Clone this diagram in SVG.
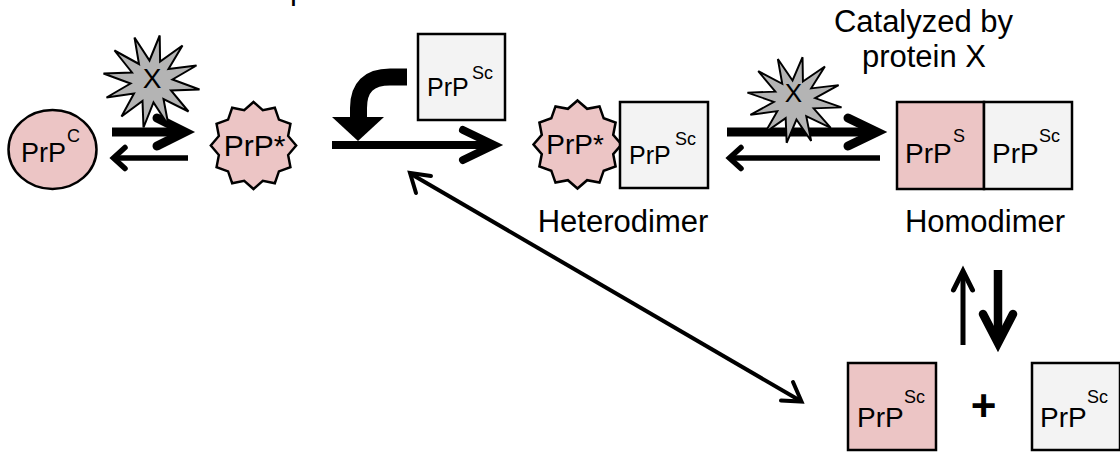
<svg xmlns="http://www.w3.org/2000/svg" width="1120" height="452" viewBox="0 0 1120 452">
<style>
text{font-family:"Liberation Sans",Arial,sans-serif;fill:#000}
.lbl{font-size:31px}
.pr{font-size:28px}
.prs{font-size:25px}
.sup{font-size:18px}
.pink{fill:#ecc5c5;stroke:#000;stroke-width:2.5}
.grey{fill:#f3f3f3;stroke:#000;stroke-width:2.5}
.star{fill:#b4b4b4;stroke:#000;stroke-width:2}
.ln{fill:none;stroke:#000;stroke-linecap:butt}
.hd{fill:none;stroke:#000;stroke-linecap:round;stroke-linejoin:miter}
</style>
<defs>
<path id="xstar" d="M8.2,-46 L8.6,-20 L31,-36 L17,-12.5 L45,-16 L21,-2 L48,8 L19.5,9 L37,30 L12,17.5 L17,44 L2,21 L-8,46 L-9,19.5 L-30,35 L-17.5,12 L-45,16 L-21,2 L-48,-8 L-19.5,-9 L-37,-31 L-12.5,-17.5 L-17,-44 L-2,-21 Z"/>
<path id="wstar" d="M0,-44 L9.6,-35.7 L22,-38.1 L26.2,-26.2 L38.1,-22 L35.7,-9.6 L44,0 L35.7,9.6 L38.1,22 L26.2,26.2 L22,38.1 L9.6,35.7 L0,44 L-9.6,35.7 L-22,38.1 L-26.2,26.2 L-38.1,22 L-35.7,9.6 L-44,0 L-35.7,-9.6 L-38.1,-22 L-26.2,-26.2 L-22,-38.1 L-9.6,-35.7 Z"/>
</defs>

<text class="lbl" x="290" y="-1.5">protein X</text>

<g id="connectors">
  <!-- PrPC <-> PrP* -->
  <line class="ln" x1="112" y1="132" x2="184" y2="132" stroke-width="9"/>
  <path class="hd" d="M157,118 L185,132 L157,146" stroke-width="9"/>
  <line class="ln" x1="188" y1="158" x2="115" y2="158" stroke-width="5.5"/>
  <path class="hd" d="M125,147.5 L113.5,158 L125,168.5" stroke-width="5.5"/>
  <!-- PrP* -> heterodimer -->
  <line class="ln" x1="332" y1="145" x2="493" y2="145" stroke-width="8"/>
  <path class="hd" d="M463,130 L494,145 L463,160" stroke-width="8"/>
  <!-- bent arrow from PrPSc -->
  <path class="ln" d="M407,77 H390 Q358.5,77 358.5,108 V118" stroke-width="17"/>
  <path d="M332,117 L384,117 L358,141 Z" fill="#000"/>
  <!-- heterodimer <-> homodimer -->
  <line class="ln" x1="727" y1="132" x2="875" y2="132" stroke-width="9"/>
  <path class="hd" d="M848,118 L877,132 L848,146" stroke-width="9"/>
  <line class="ln" x1="880" y1="158" x2="730" y2="158" stroke-width="5.5"/>
  <path class="hd" d="M741,147.5 L729.5,158 L741,168.5" stroke-width="5.5"/>
  <!-- homodimer <-> monomers -->
  <line class="ln" x1="963" y1="345" x2="963" y2="273" stroke-width="5"/>
  <path class="hd" d="M953.5,290 L963,271 L972.5,290" stroke-width="5"/>
  <line class="ln" x1="998" y1="270" x2="998" y2="342" stroke-width="8.5"/>
  <path class="hd" d="M983,314 L998,343 L1013,314" stroke-width="8.5"/>
  <!-- diagonal double arrow -->
  <line class="ln" x1="411" y1="174" x2="799" y2="400" stroke-width="4"/>
  <path class="hd" d="M431,176 L410,173 L416,193" stroke-width="4"/>
  <path class="hd" d="M781,400.5 L801.5,401.5 L793,382" stroke-width="4"/>
</g>

<g id="xstar1">
  <use href="#xstar" class="star" transform="translate(151.5,81.5)"/>
  <text x="152" y="88" font-size="28" text-anchor="middle">X</text>
</g>
<g id="xstar2">
  <use href="#xstar" class="star" transform="translate(794.5,100) scale(0.98,0.93)"/>
  <text x="793.5" y="102" font-size="26" text-anchor="middle">X</text>
</g>

<g id="prpc">
  <ellipse class="pink" cx="52.5" cy="149.5" rx="44" ry="39.5"/>
  <text x="21" y="162" font-size="27">PrP</text>
  <text class="sup" x="67" y="142">C</text>
</g>

<g id="prpstar">
  <use href="#wstar" class="pink" transform="translate(253.5,145.5) scale(0.97,0.99)"/>
  <text x="254.5" y="156" font-size="30" text-anchor="middle">PrP*</text>
</g>

<g id="prpsc-top">
  <rect class="grey" x="418" y="34" width="87" height="86"/>
  <text class="prs" x="427" y="96">PrP</text>
  <text class="sup" x="472" y="79">Sc</text>
</g>

<g id="heterodimer">
  <use href="#wstar" class="pink" transform="translate(577.5,144.5)"/>
  <text x="575" y="154" font-size="28" text-anchor="middle">PrP*</text>
  <rect class="grey" x="620" y="102" width="88" height="86"/>
  <text class="prs" x="629" y="164">PrP</text>
  <text class="sup" x="675" y="145">Sc</text>
  <text class="lbl" x="623" y="232" text-anchor="middle">Heterodimer</text>
</g>

<g id="homodimer">
  <rect class="pink" x="897" y="102" width="87" height="87"/>
  <rect class="grey" x="984" y="102" width="88" height="87"/>
  <text class="pr" x="905" y="163">PrP</text>
  <text class="sup" x="953" y="142">S</text>
  <text class="pr" x="992" y="163">PrP</text>
  <text class="sup" x="1039" y="142">Sc</text>
  <text class="lbl" x="985" y="232" text-anchor="middle">Homodimer</text>
</g>

<g id="catalyzed">
  <text class="lbl" x="923.5" y="32" text-anchor="middle">Catalyzed by</text>
  <text class="lbl" x="924" y="67" text-anchor="middle">protein X</text>
</g>

<g id="monomer-pink">
  <rect class="pink" x="848" y="363" width="88" height="87"/>
  <text class="pr" x="857" y="427">PrP</text>
  <text class="sup" x="904" y="403">Sc</text>
</g>

<g id="plus">
  <text x="983.5" y="421" font-size="44" font-weight="bold" text-anchor="middle">+</text>
</g>

<g id="monomer-grey">
  <rect class="grey" x="1032" y="363" width="88" height="87"/>
  <text class="pr" x="1040" y="427">PrP</text>
  <text class="sup" x="1087" y="403">Sc</text>
</g>
</svg>
